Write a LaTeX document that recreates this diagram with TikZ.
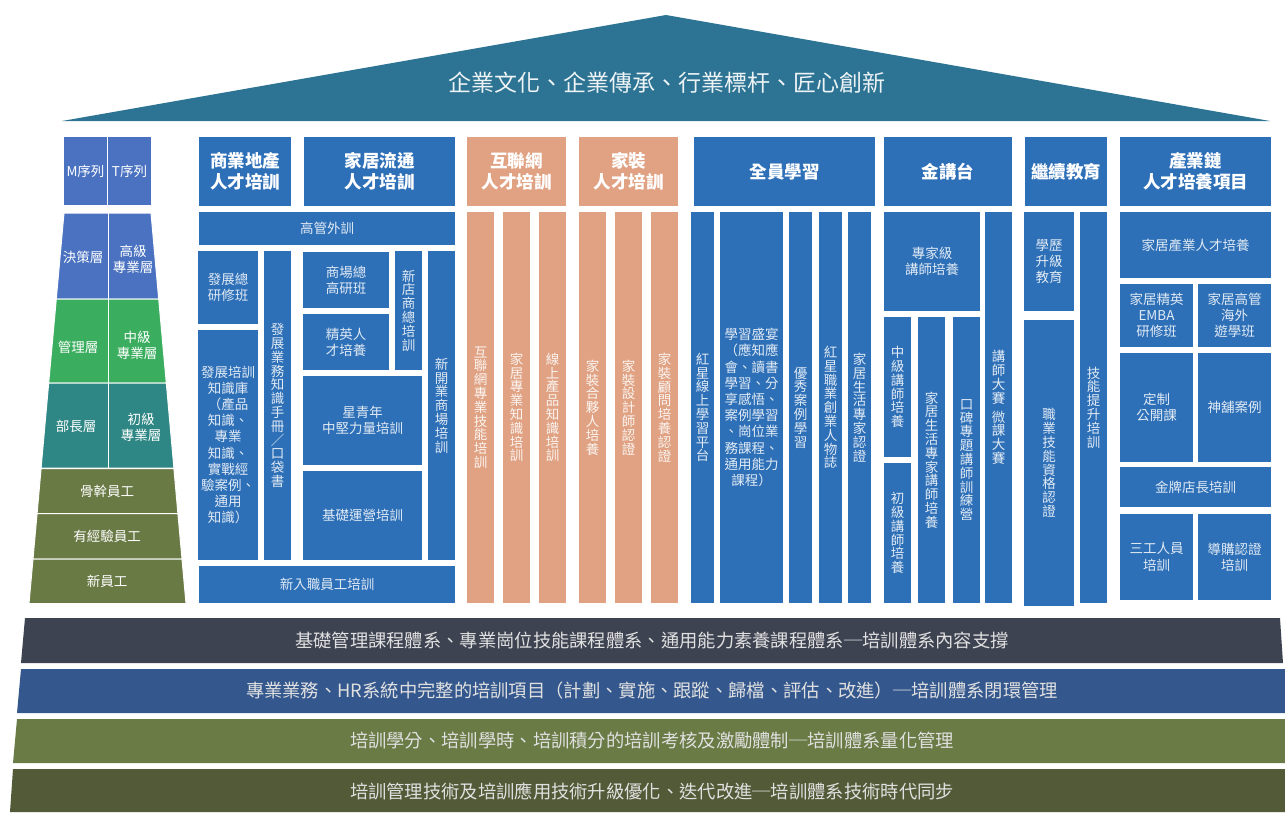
\documentclass[tikz,border=0pt]{standalone}
\usepackage{fontspec}
\setmainfont{Noto Sans CJK TC}

\definecolor{boxblue}{HTML}{2E70B8}
\definecolor{peachc}{HTML}{E0A283}
\definecolor{roofc}{HTML}{2D7393}
\definecolor{pyblue}{HTML}{4A72C0}
\definecolor{pygreen}{HTML}{3AAE5E}
\definecolor{pyteal}{HTML}{2E8784}
\definecolor{pyolive}{HTML}{6A7A45}
\definecolor{baseA}{HTML}{3E4352}
\definecolor{baseB}{HTML}{34588E}
\definecolor{baseC}{HTML}{6A7B45}
\definecolor{baseD}{HTML}{535A37}

\newcommand\hdfont{\fontsize{17.5}{21}\selectfont\bfseries}
\newcommand\bdfont{\fontsize{13.5}{16.2}\selectfont}
\newcommand\vtfont{\fontsize{13.5}{13.8}\selectfont}

\begin{document}
\begin{tikzpicture}%
  [x=1pt,y=-1pt,
   place/.style args={#1/#2/#3/#4}{at={({(#1+#3)/2},{(#2+#4)/2})},
     minimum width={(#3-#1)*1pt},minimum height={(#4-#2)*1pt}},
   head/.style=
    {fill=boxblue,text=white,font=\hdfont,align=center,inner sep=0pt},
   peachhead/.style={head,fill=peachc},
   cell/.style=
    {fill=boxblue,text=white!85!boxblue,font=\bdfont,align=center,inner sep=0pt},
   stack/.style={cell,font=\vtfont},
   peach/.style=
    {fill=peachc,text=white!88!peachc,font=\vtfont,align=center,inner sep=0pt},
   layer/.style={draw=white,line width=1pt},
   pytext/.style={text=white,font=\bdfont,align=center},
   basetext/.style={text=white!88!black,font=\fontsize{18.3}{20}\selectfont}
  ]
  \useasboundingbox (0,0) rectangle (1285,812);

  % roof
  \fill[roofc] (62,121) -- (666,15) -- (1270,121) -- cycle;
  \node[text=white!92!roofc,font=\fontsize{23}{26}\selectfont] (roof) at (667,83)
    {企業文化、企業傳承、行業標杆、匠心創新};

  % left pyramid
  \node[fill=pyblue,pytext,inner sep=0pt,place=64/137/107/205] (mseq) {M序列};
  \node[fill=pyblue,pytext,inner sep=0pt,place=108/137/151/205] (tseq) {T序列};
  \filldraw[layer,fill=pyblue] (64,213) -- (151,213) -- (158.7,299) -- (56.3,299) -- cycle;
  \filldraw[layer,fill=pygreen] (56.3,299) -- (158.7,299) -- (166.3,383) -- (48.7,383) -- cycle;
  \filldraw[layer,fill=pyteal] (48.7,383) -- (166.3,383) -- (173.9,468) -- (41.1,468) -- cycle;
  \filldraw[layer,fill=pyolive] (41.1,468.5) -- (173.9,468.5) -- (177.9,513.5) -- (37.1,513.5) -- cycle;
  \filldraw[layer,fill=pyolive] (37.1,513.5) -- (177.9,513.5) -- (182,559) -- (33,559) -- cycle;
  \filldraw[layer,fill=pyolive] (33,559) -- (182,559) -- (186,603.5) -- (29,603.5) -- cycle;
  \draw[layer] (108,213) -- (108,468);
  \node[pytext] (jcc) at (83,257) {決策層};
  \node[pytext] (gjz) at (133,259) {高級\\專業層};
  \node[pytext] (glc) at (78,347) {管理層};
  \node[pytext] (zjz) at (137,345) {中級\\專業層};
  \node[pytext] (bzc) at (76,426) {部長層};
  \node[pytext] (cjz) at (141,427) {初級\\專業層};
  \node[pytext] (ggyg) at (107,491) {骨幹員工};
  \node[pytext] (jyyg) at (107,536) {有經驗員工};
  \node[pytext] (xyg) at (107,581) {新員工};

  % headers
  \node[head,place=199/137/291/206] (hsy) {商業地產\\人才培訓};
  \node[head,place=304/137/455/206] (hjj) {家居流通\\人才培訓};
  \node[peachhead,place=467/137/566/206] (hhl) {互聯網\\人才培訓};
  \node[peachhead,place=579/137/678/206] (hjz) {家裝\\人才培訓};
  \node[head,place=694/137/875/206] (hqy) {全員學習};
  \node[head,place=884/137/1012/206] (hjt) {金講台};
  \node[head,place=1025/137/1107/206] (hjx) {繼續教育};
  \node[head,place=1120/137/1271/206] (hcy) {產業鏈\\人才培養項目};

  % 商業地產 / 家居流通
  \node[cell,place=199/212/455/245] (gg) {高管外訓};
  \node[cell,place=198/251/258/324] (fzz) {發展總\\研修班};
  \node[cell,place=198/330/258/560] (fzk)
    {發展培訓\\知識庫\\（產品\\知識、\\專業\\知識、\\實戰經\\驗案例、\\通用\\知識）};
  \node[stack,place=264/251/291/560] (fzs) {發\\展\\業\\務\\知\\識\\手\\冊\\／\\口\\袋\\書};
  \node[cell,place=303/252/389/308] (scz) {商場總\\高研班};
  \node[cell,place=303/314/389/370] (jyr) {精英人\\才培養};
  \node[stack,place=395/251/422/370] (xdz) {新\\店\\商\\總\\培\\訓};
  \node[cell,place=303/376/422/465] (xqn) {星青年\\中堅力量培訓};
  \node[cell,place=303/471/422/560] (jcy) {基礎運營培訓};
  \node[stack,place=428/251/455/560] (xky) {新\\開\\業\\商\\場\\培\\訓};
  \node[cell,place=199/566/455/603] (xrz) {新入職員工培訓};

  % 互聯網 / 家裝
  \node[peach,place=467/212/494/603] (hlw) {互\\聯\\網\\專\\業\\技\\能\\培\\訓};
  \node[peach,place=503/212/530/603] (jzy) {家\\居\\專\\業\\知\\識\\培\\訓};
  \node[peach,place=539/212/566/603] (xsc) {線\\上\\產\\品\\知\\識\\培\\訓};
  \node[peach,place=579/212/606/603] (jhh) {家\\裝\\合\\夥\\人\\培\\養};
  \node[peach,place=615/212/642/603] (jsj) {家\\裝\\設\\計\\師\\認\\證};
  \node[peach,place=651/212/678/603] (jgw) {家\\裝\\顧\\問\\培\\養\\認\\證};

  % 全員學習
  \node[stack,place=691/212/714/603] (hxpt) {紅\\星\\線\\上\\學\\習\\平\\台};
  \node[cell,place=720/212/783/603] (xxsy)
    {學習盛宴\\（應知應\\會、讀書\\學習、分\\享感悟、\\案例學習\\、崗位業\\務課程、\\通用能力\\課程）};
  \node[stack,place=789/212/812/603] (yxal) {優\\秀\\案\\例\\學\\習};
  \node[stack,place=819/212/842/603] (rwz) {紅\\星\\職\\業\\創\\業\\人\\物\\誌};
  \node[stack,place=848/212/871/603] (zjrz) {家\\居\\生\\活\\專\\家\\認\\證};

  % 金講台
  \node[cell,place=884/212/980/311] (zjj) {專家級\\講師培養};
  \node[stack,place=884/317/911/457] (zjs) {中\\級\\講\\師\\培\\養};
  \node[stack,place=884/463/911/603] (cjs) {初\\級\\講\\師\\培\\養};
  \node[stack,place=918/317/945/603] (shjs) {家\\居\\生\\活\\專\\家\\講\\師\\培\\養};
  \node[stack,place=953/317/980/603] (kbxl) {口\\碑\\專\\題\\講\\師\\訓\\練\\營};
  \node[stack,place=985/212/1012/603] (jsds) {講\\師\\大\\賽\\[5pt]微\\課\\大\\賽};

  % 繼續教育
  \node[cell,place=1024/212/1074/311] (xlsj) {學歷\\升級\\教育};
  \node[stack,place=1024/320/1074/606] (zyrz) {職\\業\\技\\能\\資\\格\\認\\證};
  \node[stack,place=1080/212/1107/603] (jnts) {技\\能\\提\\升\\培\\訓};

  % 產業鏈
  \node[cell,place=1120/212/1271/278] (hjcy) {家居產業人才培養};
  \node[cell,place=1120/284/1193/347] (emba) {家居精英\\EMBA\\研修班};
  \node[cell,place=1198/284/1271/347] (hwyx) {家居高管\\海外\\遊學班};
  \node[cell,place=1120/353/1193/462] (dzgk) {定制\\公開課};
  \node[cell,place=1198/353/1271/462] (spal) {神舖案例};
  \node[cell,place=1120/467/1271/507] (jpdz) {金牌店長培訓};
  \node[cell,place=1120/514/1193/600] (sgry) {三工人員\\培訓};
  \node[cell,place=1198/514/1271/600] (dgrz) {導購認證\\培訓};

  % base
  \fill[baseA] (25,618) -- (1280,618) -- (1283,663) -- (21,663) -- cycle;
  \fill[baseB] (21,669) -- (1285,669) -- (1285,713) -- (17,713) -- cycle;
  \fill[baseC] (17,719) -- (1285,719) -- (1285,763) -- (13,763) -- cycle;
  \fill[baseD] (13,769) -- (1285,769) -- (1285,812) -- (10,812) -- cycle;
  \node[basetext] (bsa) at (652,641)
    {基礎管理課程體系、專業崗位技能課程體系、通用能力素養課程體系─培訓體系內容支撐};
  \node[basetext] (bsb) at (652,691)
    {專業業務、HR系統中完整的培訓項目（計劃、實施、跟蹤、歸檔、評估、改進）─培訓體系閉環管理};
  \node[basetext] (bsc) at (652,741)
    {培訓學分、培訓學時、培訓積分的培訓考核及激勵體制─培訓體系量化管理};
  \node[basetext] (bsd) at (652,791)
    {培訓管理技術及培訓應用技術升級優化、迭代改進─培訓體系技術時代同步};

\end{tikzpicture}
\end{document}
